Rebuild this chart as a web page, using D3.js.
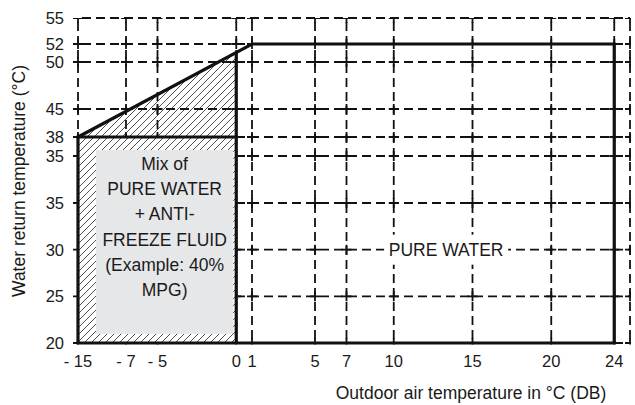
<!DOCTYPE html>
<html>
<head>
<meta charset="utf-8">
<script src="https://cdn.jsdelivr.net/npm/d3@7"></script>
<style>
  body{margin:0;background:#fff;}
  svg{display:block;font-family:"Liberation Sans",Arial,sans-serif;}
</style>
</head>
<body>
<script>
// ticks of the (hand drawn, non uniform) axes
let xTicks=[-15,-7,-5,0,1,5,7,10,15,20,24];
let xTickLabels=["- 15","- 7","- 5","0","1","5","7","10","15","20","24"];
let yTicks=[20,25,30,35,36,38,45,50,52,55];
let yTickLabels=["20","25","30","35","35","38","45","50","52","55"];

// operating envelope
let limitLine=[[-15,38],[1,52],[24,52],[24,20]];
let mixBox=[[-15,20],[-15,38],[0,38],[0,20]];
let mixText=["Mix of","PURE WATER","+ ANTI-","FREEZE FLUID","(Example: 40%","MPG)"];
let pureText="PURE WATER";

let w=635,h=405;
let svg=d3.select("body").append("svg").attr("width",w).attr("height",h);

// piecewise scales, the drawing is not to scale
let xScale=d3.scaleLinear().domain([-15,-7,25]).range([78,126,630]);
let yScale=d3.scaleLinear().domain([20,35,36,38,45,50,52,55]).range([343,203,156,137,109,62,44,18]);

let xMin=-15,xMax=25,yMin=20,yMax=55;

// hatch pattern ( / direction )
let defs=svg.append("defs");
defs.append("pattern").attr("id","hatch").attr("patternUnits","userSpaceOnUse")
  .attr("width",7).attr("height",7)
  .append("path").attr("d","M0,7L7,0M-1,1L1,-1M6,8L8,6")
  .attr("stroke","#222").attr("stroke-width",0.8);
defs.append("clipPath").attr("id","gclip").append("rect")
  .attr("x",70).attr("y",yScale(yMax)).attr("width",xScale(xMax)-70+1).attr("height",yScale(yMin)-yScale(yMax)+1.5);

// dashed grid
let grid=svg.append("g").attr("stroke","#111").attr("stroke-width",1.8).attr("fill","none");
let xGrid=xTicks.concat([xMax]);
let yGrid=yTicks;
grid.selectAll(".vg").data(xGrid).enter().append("line")
  .attr("x1",d=>xScale(d)).attr("x2",d=>xScale(d))
  .attr("y1",yScale(yMin)).attr("y2",yScale(yMax))
  .attr("stroke-dasharray","9,5").attr("stroke-dashoffset",-4);
grid.selectAll(".hg").data(yGrid).enter().append("line")
  .attr("y1",d=>yScale(d)).attr("y2",d=>yScale(d))
  .attr("x1",xScale(xMin)).attr("x2",xScale(xMax))
  .attr("stroke-dasharray","9,5").attr("stroke-dashoffset",-4);
// little crosses at the grid nodes
let nodes=[];
xGrid.forEach(a=>yGrid.forEach(b=>nodes.push([a,b])));
let cross=grid.append("g").attr("clip-path","url(#gclip)");
cross.selectAll(".ch").data(nodes).enter().append("line")
  .attr("x1",d=>xScale(d[0])-5).attr("x2",d=>xScale(d[0])+5)
  .attr("y1",d=>yScale(d[1])).attr("y2",d=>yScale(d[1]));
cross.selectAll(".cv").data(nodes).enter().append("line")
  .attr("x1",d=>xScale(d[0])).attr("x2",d=>xScale(d[0]))
  .attr("y1",d=>yScale(d[1])-5).attr("y2",d=>yScale(d[1])+5);

// hatched area under the slope, left of 0
let p0=[xScale(limitLine[0][0]),yScale(limitLine[0][1])];
let p1=[xScale(limitLine[1][0]),yScale(limitLine[1][1])];
let t=(xScale(0)-p0[0])/(p1[0]-p0[0]);
let yAt0=p0[1]+t*(p1[1]-p0[1]);
let hatchPoly=[[xScale(-15),yScale(20)],p0,[xScale(0),yAt0],[xScale(0),yScale(20)]];
let line=d3.line().x(d=>xScale(d[0])).y(d=>yScale(d[1]));
svg.append("path").attr("d",line(mixBox)+"Z").attr("fill","#fff");
svg.append("path").attr("d","M"+hatchPoly.join("L")+"Z").attr("fill","url(#hatch)");

// grey label box inside the mix region
let bx0=xScale(mixBox[0][0])+18,bx1=xScale(mixBox[2][0])-3;
let by0=yScale(mixBox[1][1])+13,by1=yScale(mixBox[0][1])-9;
svg.append("rect").attr("x",bx0).attr("y",by0).attr("width",bx1-bx0).attr("height",by1-by0).attr("fill","#e6e7e8");

// thick outlines
let thick=svg.append("g").attr("fill","none").attr("stroke","#111").attr("stroke-width",3.2);
thick.append("path").attr("d",line(limitLine)).attr("stroke-linejoin","miter");
thick.append("path").attr("d",line(mixBox));
thick.append("line").attr("x1",xScale(0)).attr("x2",xScale(0)).attr("y1",yScale(38)).attr("y2",yAt0);
thick.append("line").attr("x1",xScale(-15)-1.5).attr("x2",xScale(24)+1.5).attr("y1",yScale(20)).attr("y2",yScale(20));

// text in grey box
let cx=(bx0+bx1)/2;
svg.append("g").selectAll("text").data(mixText).enter().append("text")
  .attr("x",cx).attr("y",(d,i)=>170+i*25.2)
  .attr("text-anchor","middle").attr("font-size","17.5px").attr("fill","#1a1a1a").text(d=>d);

// pure water label on white
let pw=svg.append("g");
let pwx=(xScale(10)+xScale(15))/2+13,pwy=yScale(30);
pw.append("rect").attr("x",pwx-62).attr("y",pwy-15).attr("width",124).attr("height",30).attr("fill","#fff");
pw.append("text").attr("x",pwx).attr("y",pwy+6).attr("text-anchor","middle")
  .attr("font-size","17.5px").attr("fill","#1a1a1a").text(pureText);

// tick labels
svg.append("g").selectAll("text").data(yTicks).enter().append("text")
  .attr("x",64).attr("y",d=>yScale(d)+6).attr("text-anchor","end")
  .attr("font-size","16.5px").attr("fill","#1a1a1a").text((d,i)=>yTickLabels[i]);
svg.append("g").selectAll("text").data(xTicks).enter().append("text")
  .attr("x",d=>xScale(d)).attr("y",367).attr("text-anchor","middle")
  .attr("font-size","16.5px").attr("fill","#1a1a1a").text((d,i)=>xTickLabels[i]);

// axis titles
svg.append("text").attr("x",471).attr("y",399).attr("text-anchor","middle")
  .attr("font-size","17.5px").attr("fill","#1a1a1a").text("Outdoor air temperature in °C (DB)");
svg.append("text").attr("transform","translate(25,181) rotate(-90)").attr("text-anchor","middle")
  .attr("font-size","17.5px").attr("fill","#1a1a1a").text("Water return temperature (°C)");
</script>
</body>
</html>
